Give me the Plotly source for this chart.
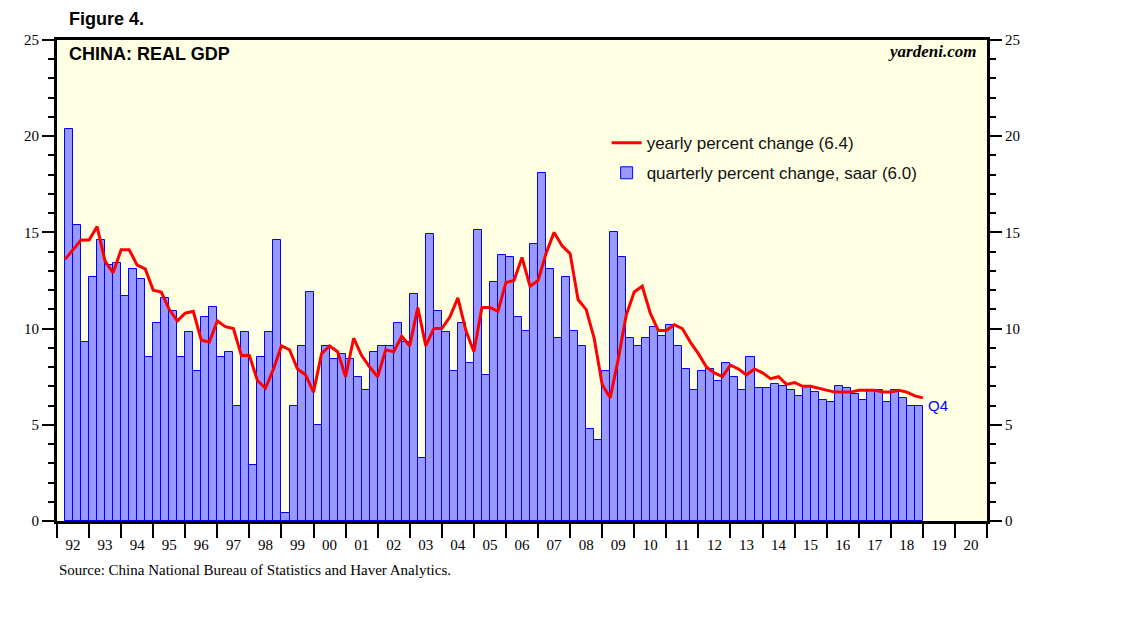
import plotly.graph_objects as go
import pandas as pd

# ---------------- data ----------------
bar_start = "1992Q2"      # first quarterly (saar) bar
line_start = "1992Q1"     # first yearly % change point

qoq_saar = [20.4, 15.4, 9.3, 12.7, 14.6, 13.3, 13.4, 11.7, 13.1, 12.6, 8.5, 10.3, 11.6, 10.9, 8.5, 9.8, 7.8, 10.6, 11.1, 8.5,
            8.8, 6.0, 9.8, 2.9, 8.5, 9.8, 14.6, 0.4, 6.0, 9.1, 11.9, 5.0, 9.1, 8.4, 8.7, 8.4, 7.5, 6.8, 8.8, 9.1,
            9.1, 10.3, 9.3, 11.8, 3.3, 14.9, 10.9, 9.8, 7.8, 10.3, 8.2, 15.1, 7.6, 12.4, 13.8, 13.7, 10.6, 9.9, 14.4, 18.1,
            13.1, 9.5, 12.7, 9.9, 9.1, 4.8, 4.2, 7.8, 15.0, 13.7, 9.5, 9.1, 9.5, 10.1, 9.6, 10.2, 9.1, 7.9, 6.8, 7.8,
            7.9, 7.3, 8.2, 7.5, 6.8, 8.5, 6.9, 6.9, 7.1, 7.0, 6.8, 6.5, 7.0, 6.7, 6.3, 6.2, 7.0, 6.9, 6.6, 6.3,
            6.8, 6.8, 6.2, 6.8, 6.4, 6.0, 6.0]

yoy = [13.6, 14.1, 14.6, 14.6, 15.3, 13.5, 12.9, 14.1, 14.1, 13.3, 13.1, 12.0, 11.9, 11.0, 10.4, 10.8, 10.9, 9.4, 9.3, 10.4,
       10.1, 10.0, 8.6, 8.6, 7.3, 6.9, 7.9, 9.1, 8.9, 7.9, 7.6, 6.7, 8.7, 9.1, 8.8, 7.5, 9.5, 8.6, 8.0, 7.5,
       8.9, 8.8, 9.6, 9.1, 11.1, 9.1, 10.0, 10.0, 10.6, 11.6, 9.9, 8.8, 11.1, 11.1, 10.9, 12.4, 12.5, 13.7, 12.2, 12.5,
       13.9, 15.0, 14.3, 13.9, 11.5, 11.0, 9.5, 7.1, 6.4, 8.4, 10.7, 11.9, 12.2, 10.8, 9.9, 9.9, 10.2, 10.0, 9.3, 8.7,
       8.0, 7.7, 7.5, 8.1, 7.9, 7.6, 7.9, 7.7, 7.4, 7.5, 7.1, 7.2, 7.0, 7.0, 6.9, 6.8, 6.7, 6.7, 6.7, 6.8,
       6.8, 6.8, 6.7, 6.7, 6.8, 6.7, 6.5, 6.4]

axis_years = list(range(1992, 2021))
year_labels = [f"{y % 100:02d}" for y in axis_years]

# ---------------- positions from dates ----------------
bar_q = pd.period_range(bar_start, periods=len(qoq_saar), freq="Q")
line_q = pd.period_range(line_start, periods=len(yoy), freq="Q")
bar_x = [p.year + (p.quarter - 0.5) / 4 for p in bar_q]
line_x = [p.year + p.quarter / 4 for p in line_q]

SANS = "Liberation Sans, Arial, sans-serif"
SERIF = "Liberation Serif, Times New Roman, serif"

fig = go.Figure()
fig.add_trace(go.Bar(
    x=bar_x, y=qoq_saar, width=0.25,
    marker=dict(color="#9999FF", line=dict(color="#0000FF", width=1)),
    name=f"quarterly percent change, saar ({qoq_saar[-1]:.1f})",
    legendrank=2, legendgroup="b", yaxis="y",
))
fig.add_trace(go.Scatter(
    x=line_x, y=yoy, mode="lines",
    line=dict(color="#FF0000", width=3),
    name=f"yearly percent change ({yoy[-1]:.1f})",
    legendrank=1, legendgroup="a", yaxis="y2",
))

x0, x1 = axis_years[0], axis_years[-1] + 1
common_y = dict(
    range=[0, 25], dtick=5, tick0=0, ticks="outside", ticklen=12, tickwidth=1.5, tickcolor="black",
    minor=dict(dtick=1, ticks="outside", ticklen=6, tickwidth=1.5, tickcolor="black", showgrid=False),
    showgrid=False, zeroline=False, showline=True, linewidth=3, linecolor="black",
    tickfont=dict(family=SERIF, size=15, color="black"), fixedrange=True,
)

fig.update_layout(
    width=1138, height=621,
    margin=dict(l=57, r=151, t=40, b=100),
    paper_bgcolor="white", plot_bgcolor="#FFFFE3",
    bargap=0,
    showlegend=True,
    legend=dict(x=0.591, y=0.823, xanchor="left", yanchor="top",
                bgcolor="rgba(0,0,0,0)", font=dict(family=SANS, size=17, color="#111111"),
                traceorder="grouped", tracegroupgap=5),
    xaxis=dict(
        range=[x0, x1],
        tickvals=[y + 0.5 for y in axis_years], ticktext=year_labels, ticks="",
        ticklabelstandoff=8,
        minor=dict(tickvals=list(range(x0, x1 + 1)), ticks="outside", ticklen=14, tickwidth=2,
                   tickcolor="black", showgrid=False),
        showgrid=False, zeroline=False, showline=True, linewidth=3, linecolor="black", mirror=True,
        tickfont=dict(family=SERIF, size=15, color="black"), fixedrange=True,
    ),
    yaxis=dict(side="left", mirror=True, **common_y),
    yaxis2=dict(side="right", overlaying="y", **common_y),
    annotations=[
        dict(text="<b>Figure 4.</b>", xref="paper", yref="paper", x=0.011, y=1.043,
             xanchor="left", yanchor="middle", showarrow=False,
             font=dict(family=SANS, size=18, color="black")),
        dict(text="<b>CHINA: REAL GDP</b>", xref="paper", yref="paper", x=0.011, y=0.971,
             xanchor="left", yanchor="middle", showarrow=False,
             font=dict(family=SANS, size=18, color="black")),
        dict(text="<b><i>yardeni.com</i></b>", xref="paper", yref="paper", x=0.99, y=0.977,
             xanchor="right", yanchor="middle", showarrow=False,
             font=dict(family=SERIF, size=17, color="black")),
        dict(text="Source: China National Bureau of Statistics and Haver Analytics.",
             xref="paper", yref="paper", x=0.0, y=-0.102,
             xanchor="left", yanchor="middle", showarrow=False,
             font=dict(family=SERIF, size=15, color="black")),
        dict(text="Q4", xref="x", yref="y", x=line_x[-1], y=qoq_saar[-1],
             xanchor="left", yanchor="middle", xshift=3, showarrow=False,
             font=dict(family=SANS, size=15, color="#0000FF")),
    ],
)

fig.write_html("out.html", config={"displayModeBar": False},
               post_script="document.body.style.margin='0';")
